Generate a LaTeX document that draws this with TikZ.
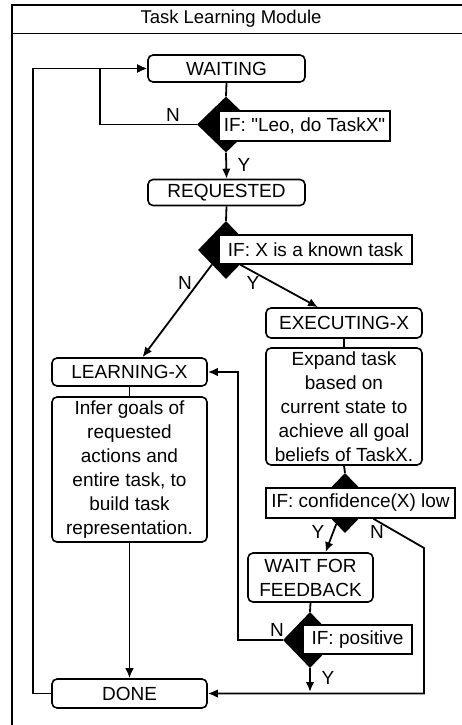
\documentclass[tikz,border=0pt]{standalone}
\usepackage{fontspec}
\setmainfont{Liberation Sans}[Ligatures=TeXOff]
\usetikzlibrary{shapes.geometric,arrows.meta,calc}
\begin{document}
\begin{tikzpicture}[x=1pt,y=-1pt,
  font=\fontsize{19}{24}\selectfont,
  state/.style={draw, line width=1.6pt, rounded corners=5pt, fill=white, inner sep=0pt, align=center},
  cond/.style={draw, line width=1.6pt, fill=white, inner sep=0pt},
  dia/.style={diamond, fill=black, draw=none, inner sep=0pt},
  conn/.style={line width=1.8pt},
  arr/.style={conn, -{Latex[length=10pt,width=8.5pt]}},
  lbl/.style={inner sep=0pt}
]
\useasboundingbox (0,0) rectangle (462,725);
% frame
\draw[line width=1.6pt] (12,725) -- (12,5) -- (462,5);
\draw[line width=1pt] (12,34) -- (462,34);
\node[lbl, font=\fontsize{18.5}{22}\selectfont] (title) at (231,19) {Task Learning Module};

% states
\node[state, minimum width=157pt, minimum height=27pt] (waiting) at (226.5,68.5) {WAITING};
\node[state, minimum width=157pt, minimum height=26pt] (requested) at (226.5,192.5) {REQUESTED};
\node[state, minimum width=156pt, minimum height=30pt] (executing) at (344,323) {EXECUTING-X};
\node[state, minimum width=156pt, minimum height=117pt] (expand) at (344,406.5) {Expand task\\based on\\current state to\\achieve all goal\\beliefs of TaskX.};
\node[state, minimum width=155pt, minimum height=28pt] (learning) at (129.5,372) {LEARNING-X};
\node[state, minimum width=155pt, minimum height=145pt] (infer) at (129.5,469.5) {Infer goals of\\requested\\actions and\\entire task, to\\build task\\representation.};
\node[state, minimum width=155pt, minimum height=29pt] (done) at (129.5,693.5) {DONE};
\node[state, minimum width=125pt, minimum height=49pt] (wait) at (310.5,577.5) {WAIT FOR\\FEEDBACK};

% decisions
\node[dia, minimum width=58pt, minimum height=56pt] (d1) at (226,124.5) {};
\node[dia, minimum width=56pt, minimum height=58pt] (d2) at (226,250) {};
\node[dia, minimum width=58pt, minimum height=60pt] (d3) at (345,503) {};
\node[dia, minimum width=54pt, minimum height=56pt] (d4) at (310,640) {};

\node[cond, minimum width=171pt, minimum height=30pt] (c1) at (304.5,126) {IF: "Leo, do TaskX"};
\node[cond, minimum width=193pt, minimum height=29pt] (c2) at (315.5,249.5) {IF: X is a known task};
\node[cond, minimum width=189pt, minimum height=30pt] (c3) at (360.5,503) {IF: confidence(X) low};
\node[cond, minimum width=109pt, minimum height=29pt] (c4) at (357.5,639.5) {IF: positive};

% helper coordinates
\coordinate (loop1) at (100,124.5);
\coordinate (outer) at (33,693.5);
\coordinate (n3) at (424,548);
\coordinate (n3b) at (424,693.5);
\coordinate (n4) at (238,640);

% connectors
\draw[conn] (waiting.south) -- (d1.north);
\draw[arr] (d1.south) -- (requested.north);
\draw[arr] (d1.west) -- (loop1) |- (waiting.west);
\draw[arr] (done.west) -- (outer) |- (waiting.west);
\draw[conn] (requested.south) -- (d2.north);
\draw[arr] ($(d2.west)!0.5!(d2.south)$) -- ([xshift=13pt]learning.north);
\draw[arr] ($(d2.east)!0.5!(d2.south)$) -- ([xshift=-26pt]executing.north);
\draw[conn] (executing.south) -- (expand.north);
\draw[conn] (learning.south) -- (infer.north);
\draw[arr] (infer.south) -- (done.north);
\draw[conn] (expand.south) -- (d3.north);
\draw[arr] ($(d3.west)!0.7!(d3.south)$) -- ([xshift=15pt]wait.north);
\draw[arr] ([xshift=13pt]c3.south) -- (n3) -- (n3b) -- (done.east);
\draw[conn] (wait.south) -- (d4.north);
\draw[arr] (d4.west) -- (n4) |- (learning.east);
\draw[arr] (d4.south) -- (310,692);

% branch labels
\node[lbl] (l1n) at (173,115) {N};
\node[lbl] (l1y) at (244,165) {Y};
\node[lbl] (l2n) at (185,283) {N};
\node[lbl] (l2y) at (253,283) {Y};
\node[lbl] (l3y) at (318,532) {Y};
\node[lbl] (l3n) at (377,532) {N};
\node[lbl] (l4n) at (277,630) {N};
\node[lbl] (l4y) at (328,678) {Y};
\end{tikzpicture}
\end{document}
